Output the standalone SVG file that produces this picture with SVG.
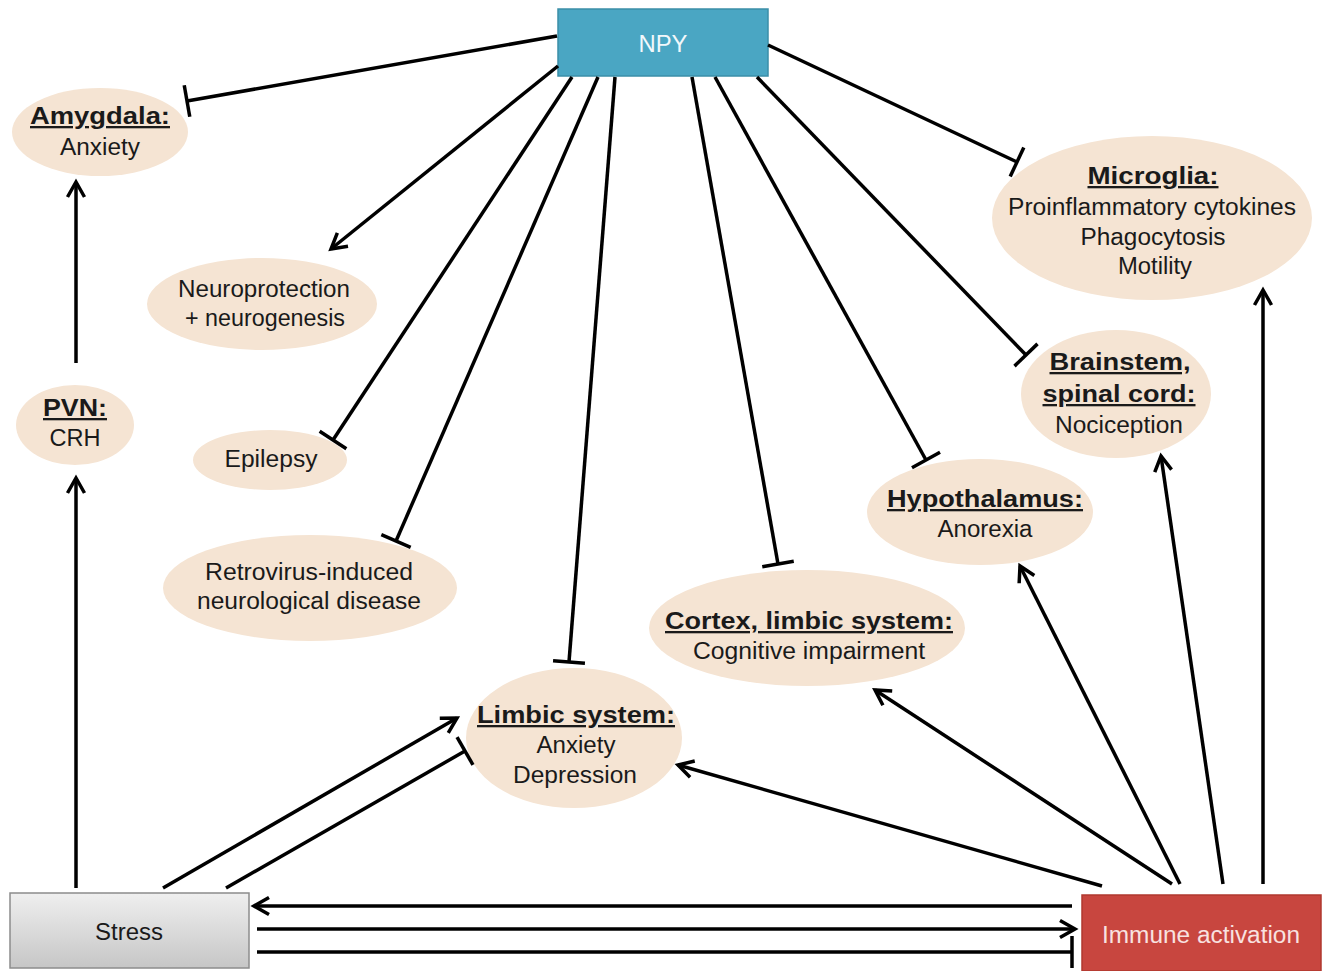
<svg xmlns="http://www.w3.org/2000/svg" width="1331" height="971" viewBox="0 0 1331 971">
<defs>
<style>
.t{font-family:"Liberation Sans",Arial,sans-serif;font-size:23px;fill:#1a1a1a;text-anchor:middle}
.b{font-weight:bold;text-decoration:underline}
.e{fill:#f5e4d3;stroke:none}
.c{stroke:#000;stroke-width:3.5;fill:none}
.ar{marker-end:url(#arrow)}
.in{marker-end:url(#tee)}
</style>
<marker id="arrow" viewBox="0 0 20 20" refX="18" refY="10" markerWidth="20" markerHeight="20" markerUnits="userSpaceOnUse" orient="auto" overflow="visible">
<path d="M3,1.5 L18,10 L3,18.5" fill="none" stroke="#000" stroke-width="3.5"/>
</marker>
<marker id="tee" viewBox="0 0 10 32" refX="5" refY="16" markerWidth="10" markerHeight="32" markerUnits="userSpaceOnUse" orient="auto" overflow="visible">
<path d="M5,0 L5,32" fill="none" stroke="#000" stroke-width="3.5"/>
</marker>
<linearGradient id="gs" x1="0" y1="0" x2="0" y2="1">
<stop offset="0" stop-color="#efefef"/>
<stop offset="1" stop-color="#c6c6c6"/>
</linearGradient>
</defs>
<rect width="1331" height="971" fill="#fff"/>

<g id="npy">
<rect x="558" y="9" width="210" height="67" fill="#4aa6c3" stroke="#3b8ea8" stroke-width="1.5"/>
<text class="t" x="663" y="52" style="fill:#f2f8fb" textLength="49" lengthAdjust="spacingAndGlyphs">NPY</text>
</g>

<g id="stress">
<rect x="10" y="893" width="239" height="75" fill="url(#gs)" stroke="#8c8c8c" stroke-width="1.5"/>
<text class="t" x="129" y="940" textLength="68" lengthAdjust="spacingAndGlyphs">Stress</text>
</g>

<g id="immune">
<rect x="1082" y="895" width="239" height="76" fill="#c8463f" stroke="#b0382f" stroke-width="1.5"/>
<text class="t" x="1201" y="943" style="fill:#f8e2e0" textLength="198" lengthAdjust="spacingAndGlyphs">Immune activation</text>
</g>

<g id="amygdala">
<ellipse class="e" cx="100" cy="132" rx="88" ry="44"/>
<text class="t b" x="100" y="124" textLength="140" lengthAdjust="spacingAndGlyphs">Amygdala:</text>
<text class="t" x="100" y="155" textLength="80" lengthAdjust="spacingAndGlyphs">Anxiety</text>
</g>

<g id="pvn">
<ellipse class="e" cx="75" cy="425" rx="59" ry="40"/>
<text class="t b" x="75" y="416" textLength="64" lengthAdjust="spacingAndGlyphs">PVN:</text>
<text class="t" x="75" y="446" textLength="51" lengthAdjust="spacingAndGlyphs">CRH</text>
</g>

<g id="neuroprotection">
<ellipse class="e" cx="262" cy="304" rx="115" ry="46"/>
<text class="t" x="264" y="297" textLength="172" lengthAdjust="spacingAndGlyphs">Neuroprotection</text>
<text class="t" x="265" y="326" textLength="160" lengthAdjust="spacingAndGlyphs">+ neurogenesis</text>
</g>

<g id="epilepsy">
<ellipse class="e" cx="270" cy="460" rx="77" ry="30"/>
<text class="t" x="271" y="467" textLength="93" lengthAdjust="spacingAndGlyphs">Epilepsy</text>
</g>

<g id="retrovirus">
<ellipse class="e" cx="310" cy="588" rx="147" ry="53"/>
<text class="t" x="309" y="580" textLength="208" lengthAdjust="spacingAndGlyphs">Retrovirus-induced</text>
<text class="t" x="309" y="609" textLength="224" lengthAdjust="spacingAndGlyphs">neurological disease</text>
</g>

<g id="limbic">
<ellipse class="e" cx="574" cy="738" rx="108" ry="70"/>
<text class="t b" x="576" y="723" textLength="198" lengthAdjust="spacingAndGlyphs">Limbic system:</text>
<text class="t" x="576" y="753" textLength="79" lengthAdjust="spacingAndGlyphs">Anxiety</text>
<text class="t" x="575" y="783" textLength="124" lengthAdjust="spacingAndGlyphs">Depression</text>
</g>

<g id="cortex">
<ellipse class="e" cx="807" cy="628" rx="158" ry="58"/>
<text class="t b" x="809" y="629" textLength="288" lengthAdjust="spacingAndGlyphs">Cortex, limbic system:</text>
<text class="t" x="809" y="659" textLength="232" lengthAdjust="spacingAndGlyphs">Cognitive impairment</text>
</g>

<g id="hypothalamus">
<ellipse class="e" cx="980" cy="512" rx="113" ry="53"/>
<text class="t b" x="985" y="507" textLength="196" lengthAdjust="spacingAndGlyphs">Hypothalamus:</text>
<text class="t" x="985" y="537" textLength="95" lengthAdjust="spacingAndGlyphs">Anorexia</text>
</g>

<g id="brainstem">
<ellipse class="e" cx="1116" cy="394" rx="95" ry="64"/>
<text class="t b" x="1120" y="370" textLength="141" lengthAdjust="spacingAndGlyphs">Brainstem,</text>
<text class="t b" x="1119" y="402" textLength="153" lengthAdjust="spacingAndGlyphs">spinal cord:</text>
<text class="t" x="1119" y="433" textLength="128" lengthAdjust="spacingAndGlyphs">Nociception</text>
</g>

<g id="microglia">
<ellipse class="e" cx="1152" cy="218" rx="160" ry="82"/>
<text class="t b" x="1153" y="184" textLength="131" lengthAdjust="spacingAndGlyphs">Microglia:</text>
<text class="t" x="1152" y="215" textLength="288" lengthAdjust="spacingAndGlyphs">Proinflammatory cytokines</text>
<text class="t" x="1153" y="245" textLength="145" lengthAdjust="spacingAndGlyphs">Phagocytosis</text>
<text class="t" x="1155" y="274" textLength="74" lengthAdjust="spacingAndGlyphs">Motility</text>
</g>

<g id="connectors">
<path class="c in" d="M557,36 L187,101"/>
<path class="c ar" d="M558,66 L331,249"/>
<path class="c in" d="M572,77 L333,440"/>
<path class="c in" d="M598,77 L396,541"/>
<path class="c in" d="M615,77 L569,662"/>
<path class="c in" d="M692,77 L778,564"/>
<path class="c in" d="M715,77 L926,460"/>
<path class="c in" d="M757,77 L1026,355"/>
<path class="c in" d="M768,45 L1017,162"/>
<path class="c ar" d="M76,888 L76,478"/>
<path class="c ar" d="M76,363 L76,182"/>
<path class="c ar" d="M163,888 L457,718"/>
<path class="c in" d="M226,888 L465,751"/>
<path class="c ar" d="M1072,906 L254,906"/>
<path class="c ar" d="M257,929 L1075,929"/>
<path class="c in" d="M257,952 L1072,952"/>
<path class="c ar" d="M1102,886 L678,765"/>
<path class="c ar" d="M1172,884 L875,690"/>
<path class="c ar" d="M1180,884 L1020,566"/>
<path class="c ar" d="M1223,884 L1161,456"/>
<path class="c ar" d="M1263,884 L1263,290"/>
</g>
</svg>
